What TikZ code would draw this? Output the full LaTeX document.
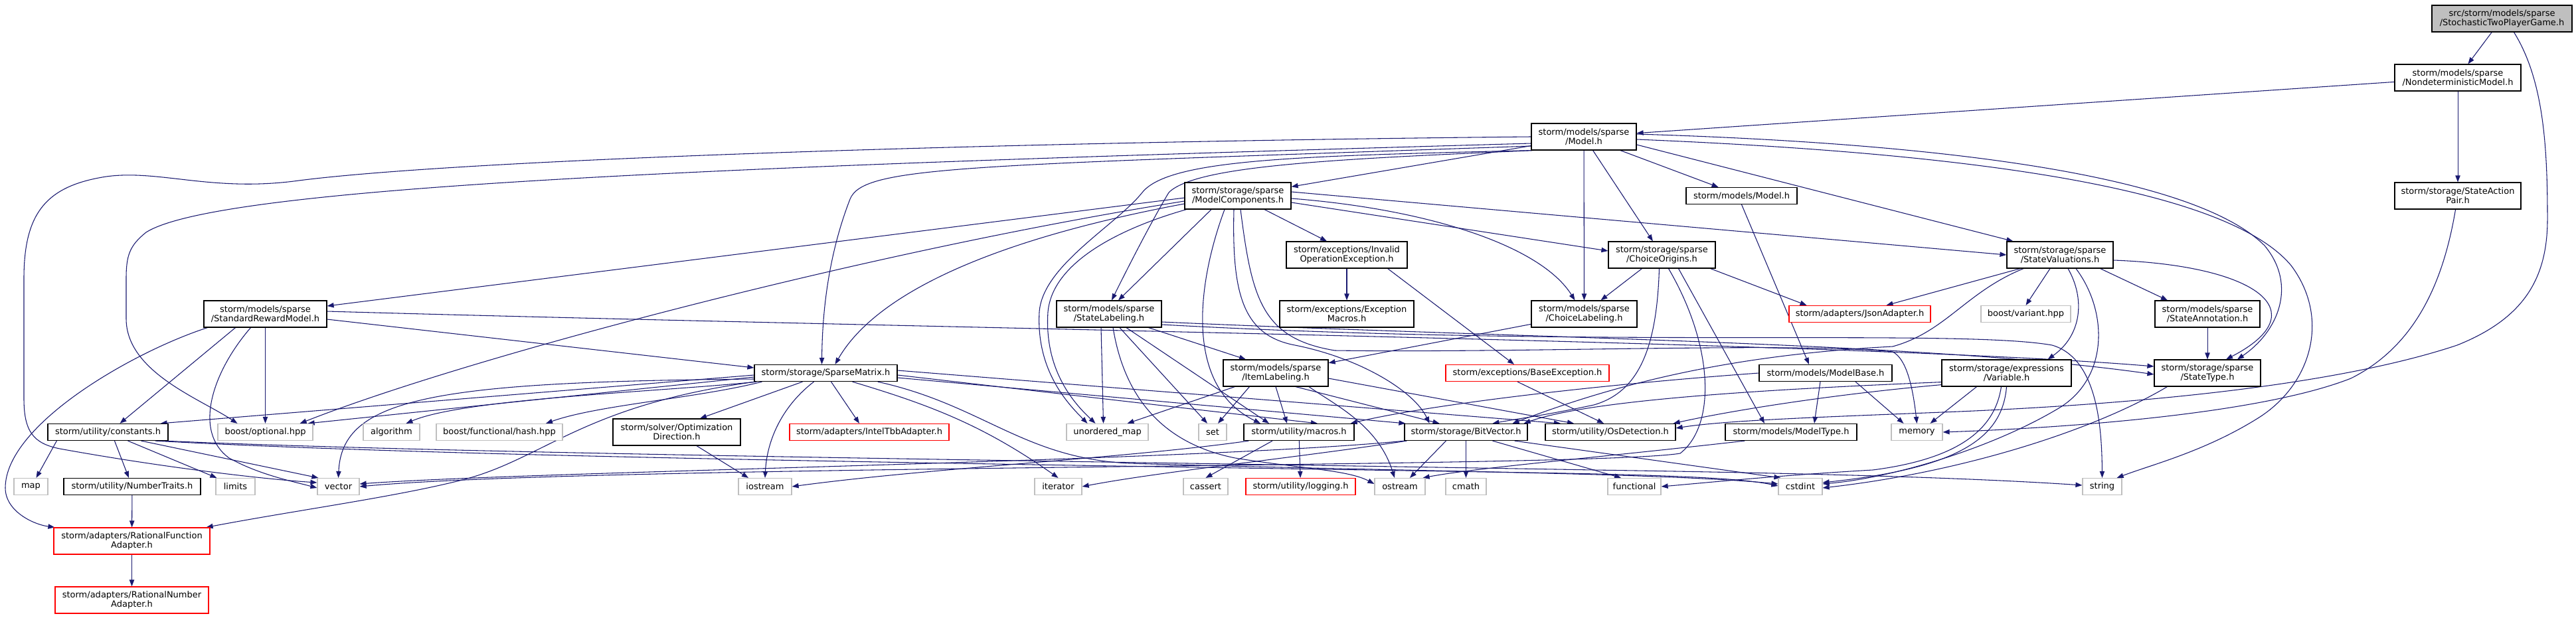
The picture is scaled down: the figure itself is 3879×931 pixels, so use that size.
\documentclass[tikz,border=0pt]{standalone}
\usepackage{fontspec}
\newfontfamily\dxfont{DejaVu Sans}
\usetikzlibrary{arrows.meta,calc,backgrounds}
\definecolor{edgecol}{HTML}{191970}
\definecolor{greybd}{HTML}{BFBFBF}
\definecolor{redbd}{HTML}{FF0000}
\newcommand{\nodefont}{\dxfont\fontsize{9.75pt}{10.7pt}\selectfont}
\tikzset{
  box/.style={draw=black, line width=0.9pt, fill=white, inner sep=0pt, align=center, font=\nodefont, text=black},
  gbox/.style={box, draw=greybd},
  rbox/.style={box, draw=redbd},
  wd/.style={minimum width={#1*0.75pt}},
  hone/.style={minimum height=18.75pt},
  htwo/.style={minimum height=30pt},
  lnk/.style={draw=edgecol, line width=0.8pt, -{Triangle[length=7.5pt,width=5.5pt]}}
}
\begin{document}
\begin{tikzpicture}[x=0.75pt,y=-0.75pt]
\useasboundingbox (0,0) rectangle (3879,931);
% ---------- nodes ----------
\node[box,htwo,wd=211,fill=greybd] (S) at (3767.5,28) {src/storm/models/sparse\\/StochasticTwoPlayerGame.h};
\node[box,htwo,wd=190] (NM) at (3701,117) {storm/models/sparse\\/NondeterministicModel.h};
\node[box,htwo,wd=158] (MS) at (2385,206) {storm/models/sparse\\/Model.h};
\node[box,htwo,wd=160] (MC) at (1864,295) {storm/storage/sparse\\/ModelComponents.h};
\node[box,hone,wd=167] (MM) at (2622.5,295) {storm/models/Model.h};
\node[box,htwo,wd=190] (SAP) at (3701,295) {storm/storage/StateAction\\Pair.h};
\node[box,htwo,wd=182] (IO) at (2028,384) {storm/exceptions/Invalid\\OperationException.h};
\node[box,htwo,wd=161] (CO) at (2502.5,384) {storm/storage/sparse\\/ChoiceOrigins.h};
\node[box,htwo,wd=160] (SV) at (3102,384) {storm/storage/sparse\\/StateValuations.h};
\node[box,htwo,wd=185] (SRM) at (399.5,473) {storm/models/sparse\\/StandardRewardModel.h};
\node[box,htwo,wd=158] (SL) at (1670,473) {storm/models/sparse\\/StateLabeling.h};
\node[box,htwo,wd=202] (EM) at (2028,473) {storm/exceptions/Exception\\Macros.h};
\node[box,htwo,wd=159] (CL) at (2385.5,473) {storm/models/sparse\\/ChoiceLabeling.h};
\node[rbox,hone,wd=213] (JA) at (2800.5,473) {storm/adapters/JsonAdapter.h};
\node[gbox,hone,wd=135] (BVar) at (3050.5,473) {boost/variant.hpp};
\node[box,htwo,wd=158] (SA) at (3324,473) {storm/models/sparse\\/StateAnnotation.h};
\node[box,hone,wd=215] (SM) at (1243.5,562) {storm/storage/SparseMatrix.h};
\node[box,htwo,wd=158] (IL) at (1921,562) {storm/models/sparse\\/ItemLabeling.h};
\node[rbox,hone,wd=246] (BE) at (2300,562) {storm/exceptions/BaseException.h};
\node[box,hone,wd=200] (MB) at (2749,562) {storm/models/ModelBase.h};
\node[box,htwo,wd=195] (V) at (3021.5,562) {storm/storage/expressions\\/Variable.h};
\node[box,htwo,wd=160] (ST) at (3324,562) {storm/storage/sparse\\/StateType.h};
\node[box,hone,wd=181] (CON) at (162.5,651) {storm/utility/constants.h};
\node[gbox,hone,wd=143] (OPT) at (399.5,651) {boost/optional.hpp};
\node[gbox,hone,wd=85] (ALG) at (589.5,651) {algorithm};
\node[gbox,hone,wd=190] (HASH) at (752,651) {boost/functional/hash.hpp};
\node[box,htwo,wd=192] (OD) at (1019,651) {storm/solver/Optimization\\Direction.h};
\node[rbox,hone,wd=240] (TBB) at (1309,651) {storm/adapters/IntelTbbAdapter.h};
\node[gbox,hone,wd=123] (UM) at (1667.5,651) {unordered\_map};
\node[gbox,hone,wd=42] (SET) at (1826,651) {set};
\node[box,hone,wd=166] (MAC) at (1956,651) {storm/utility/macros.h};
\node[box,hone,wd=185] (BV) at (2207.5,651) {storm/storage/BitVector.h};
\node[box,hone,wd=196] (OS) at (2425,651) {storm/utility/OsDetection.h};
\node[box,hone,wd=198] (MT) at (2697,651) {storm/models/ModelType.h};
\node[gbox,hone,wd=77] (MEM) at (2886.5,651) {memory};
\node[gbox,hone,wd=51] (MAP) at (46.5,733) {map};
\node[box,hone,wd=206] (NT) at (199,733) {storm/utility/NumberTraits.h};
\node[gbox,hone,wd=59] (LIM) at (354.5,733) {limits};
\node[gbox,hone,wd=63] (VEC) at (509.5,733) {vector};
\node[gbox,hone,wd=80] (IOS) at (1152,733) {iostream};
\node[gbox,hone,wd=71] (ITER) at (1593.5,733) {iterator};
\node[gbox,hone,wd=67] (CAS) at (1815.5,733) {cassert};
\node[rbox,hone,wd=165] (LOG) at (1958.5,733) {storm/utility/logging.h};
\node[gbox,hone,wd=76] (OST) at (2108,733) {ostream};
\node[gbox,hone,wd=61] (CMATH) at (2207.5,733) {cmath};
\node[gbox,hone,wd=80] (FUNC) at (2461,733) {functional};
\node[gbox,hone,wd=66] (CST) at (2711,733) {cstdint};
\node[gbox,hone,wd=59] (STR) at (3165.5,733) {string};
\node[rbox,htwo,wd=235] (RFA) at (198.5,815) {storm/adapters/RationalFunction\\Adapter.h};
\node[rbox,htwo,wd=231] (RNA) at (198.5,904) {storm/adapters/RationalNumber\\Adapter.h};
% ---------- edges ----------
\begin{pgfonlayer}{background}
\fill[white] (0,0) rectangle (3879,931);
% root
\draw[lnk] (S) -- (NM);
\draw[lnk] ($(S.south)+(18,0)$) .. controls (3830,120) and (3836,220) .. (3836,330) .. controls (3836,420) and (3800,480) .. (3700,520) .. controls (3550,570) and (3300,605) .. (2950,620) .. controls (2750,628) and (2600,633) .. ($(OS.east)+(0,-6)$);
% NondeterministicModel
\draw[lnk] (NM) -- (MS);
\draw[lnk] (NM) -- (SAP);
\draw[lnk] (SAP) .. controls (3680,420) and (3640,520) .. (3540,570) .. controls (3400,625) and (3100,645) .. (MEM.east);
% Model.h (sparse)
\draw[lnk] (MS.west) .. controls (1500,214) and (700,240) .. (450,272) .. controls (320,290) and (240,255) .. (160,266) .. controls (70,280) and (36,320) .. (36,420) -- (36,600) .. controls (36,650) and (50,668) .. (90,676) .. controls (250,705) and (400,722) .. ($(VEC.west)+(0,-6)$);
\draw[lnk] ($(MS.west)+(0,10)$) .. controls (1100,250) and (330,280) .. (220,350) .. controls (195,370) and (190,385) .. (190,420) -- (190,480) .. controls (190,560) and (300,600) .. ($(OPT.north)+(-42,0)$);
\draw[lnk] ($(MS.west)+(0,14)$) .. controls (1450,250) and (1300,250) .. (1280,300) .. controls (1245,390) and (1238,480) .. ($(SM.north)+(-6,0)$);
\draw[lnk] (MS) -- (MC);
\draw[lnk] ($(MS.south west)+(4,0)$) .. controls (2000,240) and (1800,250) .. (1760,290) .. controls (1730,340) and (1690,420) .. ($(SL.north)+(4,0)$);
\draw[lnk] ($(MS.south west)+(1,0)$) .. controls (1950,235) and (1760,240) .. (1720,290) .. controls (1680,340) and (1570,400) .. (1565,470) .. controls (1560,560) and (1610,610) .. ($(UM.north)+(-30,0)$);
\draw[lnk] (MS) -- (CL);
\draw[lnk] (MS) -- (CO);
\draw[lnk] (MS) -- (MM);
\draw[lnk] ($(MS.east)+(0,12)$) -- ($(SV.north west)+(10,0)$);
\draw[lnk] ($(MS.east)+(0,-4)$) .. controls (2900,215) and (3300,260) .. (3410,370) .. controls (3460,430) and (3430,500) .. ($(ST.north)+(45,0)$);
\draw[lnk] ($(MS.east)+(0,4)$) .. controls (2950,230) and (3350,280) .. (3450,400) .. controls (3510,480) and (3480,580) .. (3400,630) .. controls (3320,680) and (3240,700) .. ($(STR.north east)+(-8,0)$);
% ModelComponents
\draw[lnk] ($(MC.west)+(0,3)$) -- ($(SRM.east)+(0,-12)$);
\draw[lnk] ($(MC.west)+(0,8)$) .. controls (1300,380) and (700,540) .. ($(OPT.north east)+(-20,0)$);
\draw[lnk] ($(MC.west)+(0,12)$) .. controls (1500,360) and (1320,440) .. ($(SM.north)+(14,0)$);
\draw[lnk] ($(MC.south west)+(3,0)$) .. controls (1700,340) and (1585,390) .. (1578,470) .. controls (1572,560) and (1620,610) .. ($(UM.north)+(-18,0)$);
\draw[lnk] ($(MC.south)+(-40,0)$) -- ($(SL.north)+(14,0)$);
\draw[lnk] ($(MC.south)+(-20,0)$) .. controls (1805,420) and (1780,580) .. ($(MAC.north)+(-58,0)$);
\draw[lnk] ($(MC.south)+(-6,0)$) .. controls (1855,440) and (1870,505) .. (1950,520) .. controls (2050,540) and (2130,590) .. ($(BV.north)+(-55,0)$);
\draw[lnk] ($(MC.south)+(4,0)$) .. controls (1885,450) and (1900,510) .. (2010,528) .. controls (2300,532) and (2700,515) .. (2850,530) .. controls (2870,540) and (2880,580) .. (MEM.north);
\draw[lnk] ($(MC.south)+(40,0)$) -- ($(IO.north)+(-30,0)$);
\draw[lnk] ($(MC.east)+(0,4)$) .. controls (2150,315) and (2320,370) .. ($(CL.north)+(-14,0)$);
\draw[lnk] ($(MC.east)+(0,10)$) -- ($(CO.west)+(0,-6)$);
\draw[lnk] ($(MC.east)+(0,-6)$) -- (SV.west);
% InvalidOperationException
\draw[lnk] (IO) -- (EM);
\draw[lnk] ($(IO.south east)+(-30,0)$) -- ($(BE.north)+(-20,0)$);
% ChoiceOrigins
\draw[lnk] ($(CO.south)+(-30,0)$) -- ($(CL.north)+(25,0)$);
\draw[lnk] ($(CO.south)+(-4,0)$) .. controls (2495,520) and (2470,590) .. (2400,610) .. controls (2330,625) and (2290,630) .. ($(BV.north)+(40,0)$);
\draw[lnk] ($(CO.south)+(10,0)$) .. controls (2580,520) and (2585,640) .. (2530,683) .. controls (2400,705) and (900,700) .. (VEC.east);
\draw[lnk] ($(CO.south)+(25,0)$) -- ($(MT.north)+(-40,0)$);
\draw[lnk] ($(CO.south east)+(-8,0)$) -- ($(JA.north)+(-80,0)$);
% ChoiceLabeling
\draw[lnk] (CL) -- (IL);
% StateValuations
\draw[lnk] ($(SV.south)+(-60,0)$) -- ($(JA.north)+(40,0)$);
\draw[lnk] ($(SV.south)+(-15,0)$) -- (BVar.north);
\draw[lnk] ($(SV.south)+(12,0)$) .. controls (3140,450) and (3135,505) .. ($(V.north)+(62,0)$);
\draw[lnk] ($(SV.south east)+(-20,0)$) -- ($(SA.north)+(-60,0)$);
\draw[lnk] ($(SV.east)+(0,8)$) .. controls (3400,400) and (3490,470) .. ($(ST.north)+(28,0)$);
\draw[lnk] ($(SV.south)+(24,0)$) .. controls (3175,470) and (3175,570) .. (3100,615) .. controls (3000,675) and (2850,720) .. ($(CST.east)+(0,-4)$);
\draw[lnk] ($(SV.south)+(-55,0)$) .. controls (2960,440) and (2930,500) .. (2850,522) .. controls (2600,535) and (2430,580) .. ($(BV.north)+(70,0)$);
% StandardRewardModel
\draw[lnk] ($(SRM.east)+(0,8)$) -- ($(SM.west)+(0,-8)$);
\draw[lnk] ($(SRM.south west)+(6,0)$) .. controls (200,530) and (8,640) .. (8,735) .. controls (8,770) and (50,790) .. ($(RFA.north west)+(2,0)$);
\draw[lnk] ($(SRM.south)+(-45,0)$) -- ($(CON.north)+(18,0)$);
\draw[lnk] ($(SRM.south)+(-22,0)$) .. controls (320,560) and (290,650) .. (345,690) .. controls (390,715) and (440,725) .. ($(VEC.west)+(0,2)$);
\draw[lnk] (SRM) -- (OPT);
\draw[lnk] ($(SRM.east)+(0,-4)$) .. controls (1400,495) and (2800,515) .. ($(ST.west)+(0,-10)$);
% StateLabeling
\draw[lnk] ($(SL.east)+(0,12)$) .. controls (2300,510) and (2900,515) .. ($(ST.west)+(0,2)$);
\draw[lnk] ($(SL.east)+(0,16)$) .. controls (2400,525) and (2950,495) .. (3090,520) .. controls (3160,540) and (3165,650) .. (STR.north);
\draw[lnk] ($(SL.south)+(-12,0)$) -- ($(UM.north)+(-6,0)$);
\draw[lnk] ($(SL.south)+(6,0)$) .. controls (1690,580) and (1735,665) .. (1860,690) .. controls (1960,706) and (2030,708) .. ($(OST.west)+(0,-4)$);
\draw[lnk] ($(SL.south)+(16,0)$) -- ($(SET.north)+(-8,0)$);
\draw[lnk] ($(SL.south)+(26,0)$) -- ($(MAC.north)+(-45,0)$);
\draw[lnk] ($(SL.south east)+(-20,0)$) -- ($(IL.north)+(-45,0)$);
% ItemLabeling
\draw[lnk] ($(IL.south west)+(18,0)$) -- ($(UM.north)+(30,0)$);
\draw[lnk] ($(IL.south west)+(40,0)$) -- ($(SET.north)+(8,0)$);
\draw[lnk] (IL.south) -- ($(MAC.north)+(-18,0)$);
\draw[lnk] ($(IL.south)+(30,0)$) -- ($(BV.north)+(-40,0)$);
\draw[lnk] ($(IL.south)+(50,0)$) .. controls (2010,610) and (2075,640) .. ($(OST.north)+(-8,0)$);
\draw[lnk] ($(IL.east)+(0,8)$) -- ($(OS.north)+(-55,0)$);
% SparseMatrix
\draw[lnk] ($(SM.west)+(0,3)$) -- ($(CON.north east)+(-12,0)$);
\draw[lnk] ($(SM.west)+(0,6)$) -- ($(OPT.north east)+(-8,0)$);
\draw[lnk] ($(SM.south west)+(4,0)$) .. controls (1000,590) and (700,600) .. ($(ALG.north)+(22,0)$);
\draw[lnk] ($(SM.south west)+(12,0)$) .. controls (1050,600) and (900,610) .. ($(HASH.north)+(70,0)$);
\draw[lnk] ($(SM.west)+(0,9)$) .. controls (650,575) and (515,600) .. (VEC.north);
\draw[lnk] ($(SM.south west)+(2,0)$) .. controls (880,610) and (820,690) .. (700,722) .. controls (600,748) and (450,768) .. ($(RFA.north east)+(-6,0)$);
\draw[lnk] ($(SM.south)+(-35,0)$) -- ($(OD.north)+(35,0)$);
\draw[lnk] ($(SM.south)+(-18,0)$) .. controls (1180,610) and (1155,660) .. (IOS.north);
\draw[lnk] ($(SM.south)+(8,0)$) -- ($(TBB.north)+(-15,0)$);
\draw[lnk] ($(SM.south)+(40,0)$) .. controls (1400,610) and (1480,640) .. (ITER.north);
\draw[lnk] ($(SM.south east)+(-30,0)$) .. controls (1480,610) and (1540,690) .. (1700,698) .. controls (2100,710) and (2500,712) .. ($(CST.west)+(0,-4)$);
\draw[lnk] ($(SM.east)+(0,3)$) -- ($(MAC.north)+(28,0)$);
\draw[lnk] ($(SM.east)+(0,7)$) -- ($(BV.north west)+(2,0)$);
\draw[lnk] ($(SM.east)+(0,-4)$) -- ($(OS.north)+(-75,0)$);
% constants
\draw[lnk] ($(CON.south west)+(14,0)$) -- ($(MAP.north)+(8,0)$);
\draw[lnk] ($(CON.south)+(10,0)$) -- ($(NT.north)+(-5,0)$);
\draw[lnk] ($(CON.south)+(30,0)$) -- ($(LIM.north west)+(2,0)$);
\draw[lnk] ($(CON.south)+(50,0)$) -- ($(VEC.north west)+(2,0)$);
\draw[lnk] ($(CON.south east)+(-20,0)$) .. controls (700,690) and (1600,700) .. (2300,712) .. controls (2550,716) and (2630,722) .. ($(CST.west)+(0,-1)$);
\draw[lnk] ($(CON.south east)+(-8,0)$) .. controls (700,684) and (1600,694) .. (2400,708) .. controls (2800,714) and (3000,722) .. ($(STR.west)+(0,-2)$);
\draw[lnk] (NT) -- (RFA);
\draw[lnk] (RFA) -- (RNA);
% OptimizationDirection
\draw[lnk] ($(OD.south)+(30,0)$) -- ($(IOS.north)+(-25,0)$);
% macros
\draw[lnk] ($(MAC.south west)+(8,0)$) .. controls (1700,690) and (1400,705) .. (IOS.east);
\draw[lnk] ($(MAC.south)+(-40,0)$) -- (CAS.north);
\draw[lnk] (MAC) -- (LOG);
% BitVector
\draw[lnk] ($(BV.south west)+(4,0)$) .. controls (1950,690) and (1750,710) .. (ITER.east);
\draw[lnk] ($(BV.south)+(-30,0)$) -- ($(OST.north)+(15,0)$);
\draw[lnk] (BV) -- (CMATH);
\draw[lnk] ($(BV.south)+(40,0)$) -- ($(FUNC.north)+(-20,0)$);
\draw[lnk] ($(BV.south east)+(-20,0)$) -- ($(CST.north west)+(4,0)$);
\draw[lnk] ($(BV.south west)+(1,0)$) .. controls (1800,695) and (800,710) .. ($(VEC.east)+(0,-4)$);
% ModelType, ModelBase, models/Model.h
\draw[lnk] ($(MT.south west)+(30,0)$) .. controls (2400,690) and (2220,705) .. ($(OST.north east)+(-4,0)$);
\draw[lnk] ($(MB.south)+(-8,0)$) -- ($(MT.north)+(35,0)$);
\draw[lnk] ($(MB.south)+(45,0)$) -- ($(MEM.north)+(-20,0)$);
\draw[lnk] (MB.west) .. controls (2400,580) and (2150,610) .. ($(MAC.north east)+(-6,0)$);
\draw[lnk] (MM.south) -- ($(MB.north)+(-25,0)$);
% Variable
\draw[lnk] ($(V.south)+(-45,0)$) -- ($(MEM.north)+(20,0)$);
\draw[lnk] ($(V.south west)+(0,-3)$) .. controls (2750,595) and (2600,620) .. ($(OS.north east)+(-4,0)$);
\draw[lnk] ($(V.south west)+(0,-7)$) .. controls (2700,585) and (2400,600) .. ($(BV.north east)+(-6,0)$);
\draw[lnk] ($(V.south)+(-8,0)$) .. controls (3005,640) and (2960,690) .. (2820,708) .. controls (2680,716) and (2560,728) .. (FUNC.east);
\draw[lnk] (V.south) .. controls (3015,660) and (2950,705) .. ($(CST.east)+(0,-6)$);
% StateType, StateAnnotation, BaseException
\draw[lnk] ($(ST.south west)+(20,0)$) .. controls (3150,650) and (2950,712) .. ($(CST.east)+(0,2)$);
\draw[lnk] (SA) -- (ST);
\draw[lnk] ($(BE.south)+(-15,0)$) -- ($(OS.north)+(-10,0)$);
\end{pgfonlayer}
\end{tikzpicture}
\end{document}
